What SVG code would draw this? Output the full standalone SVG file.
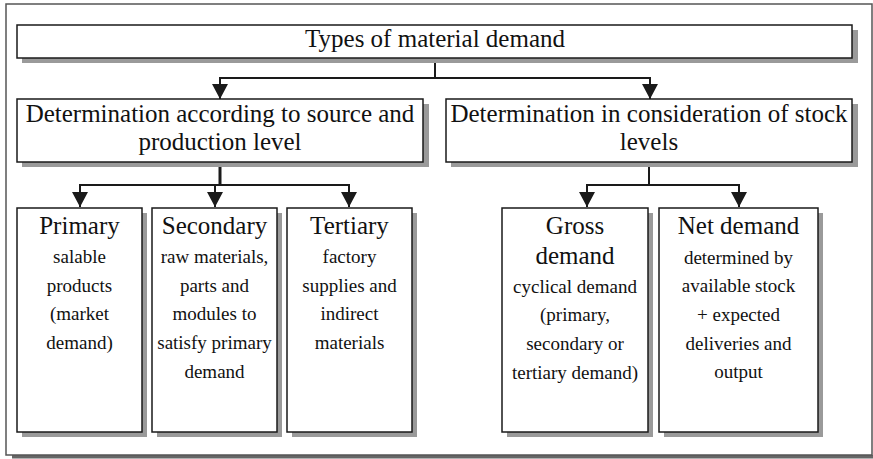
<svg xmlns="http://www.w3.org/2000/svg" width="873" height="459" viewBox="0 0 873 459">
<style>
.bg{fill:#fff}
.box{fill:#fff;stroke:#1a1a1a;stroke-width:1.5}
.sh{fill:#9a9a9a}
.t{font-family:"Liberation Serif","Times New Roman",serif;fill:#111;text-anchor:middle}
.big{font-size:25px}
.sub{font-size:19px}
.con{fill:none;stroke:#1a1a1a;stroke-width:2}
</style>
<defs>
<marker id="ah" markerUnits="userSpaceOnUse" markerWidth="15" markerHeight="16" viewBox="0 0 15 16" refX="15" refY="8" orient="auto-start-reverse">
<path d="M0,0 L15,8 L0,16 Z" fill="#1a1a1a"/>
</marker>
</defs>
<rect class="bg" x="0" y="0" width="873" height="459"/>
<g id="frame">
<rect x="12" y="455" width="861" height="3.5" fill="#666"/>
<rect x="6" y="4" width="866" height="451" fill="none" stroke="#555" stroke-width="1.5"/>
</g>
<g id="connectors">
<polyline class="con" points="435,58 435,78"/>
<polyline class="con" points="220,99 220,78 650,78 650,99" marker-start="url(#ah)" marker-end="url(#ah)"/>
<polyline class="con" style="stroke-width:3" points="220,163 220,185"/>
<polyline class="con" points="80,207 80,185 349,185 349,207" marker-start="url(#ah)" marker-end="url(#ah)"/>
<polyline class="con" points="215,185 215,207" marker-end="url(#ah)"/>
<polyline class="con" points="649,163 649,185"/>
<polyline class="con" points="587,207 587,185 739,185 739,207" marker-start="url(#ah)" marker-end="url(#ah)"/>
</g>
<g id="types">
<rect class="sh" x="22" y="30" width="836" height="33"/>
<rect class="box" x="17" y="25" width="835" height="33"/>
<text class="t big" x="435" y="47">Types of material demand</text>
</g>
<g id="source">
<rect class="sh" x="22" y="104" width="407" height="63"/>
<rect class="box" x="17" y="99" width="406" height="63"/>
<text class="t big" x="220" y="122">Determination according to source and</text>
<text class="t big" x="220" y="150">production level</text>
</g>
<g id="stock">
<rect class="sh" x="451" y="104" width="407" height="63"/>
<rect class="box" x="446" y="99" width="406" height="63"/>
<text class="t big" x="649" y="122">Determination in consideration of stock</text>
<text class="t big" x="649" y="150">levels</text>
</g>
<g id="primary">
<rect class="sh" x="22" y="213" width="125" height="224"/>
<rect class="box" x="17" y="208" width="125" height="224"/>
<text class="t big" x="79.5" y="234">Primary</text>
<text class="t sub" x="79.5" y="263">salable</text>
<text class="t sub" x="79.5" y="292">products</text>
<text class="t sub" x="79.5" y="320">(market</text>
<text class="t sub" x="79.5" y="349">demand)</text>
</g>
<g id="secondary">
<rect class="sh" x="157" y="213" width="125" height="224"/>
<rect class="box" x="152" y="208" width="125" height="224"/>
<text class="t big" x="214.5" y="234">Secondary</text>
<text class="t sub" x="214.5" y="263">raw materials,</text>
<text class="t sub" x="214.5" y="292">parts and</text>
<text class="t sub" x="214.5" y="320">modules to</text>
<text class="t sub" x="214.5" y="349">satisfy primary</text>
<text class="t sub" x="214.5" y="378">demand</text>
</g>
<g id="tertiary">
<rect class="sh" x="292" y="213" width="125" height="224"/>
<rect class="box" x="287" y="208" width="125" height="224"/>
<text class="t big" x="349.5" y="234">Tertiary</text>
<text class="t sub" x="349.5" y="263">factory</text>
<text class="t sub" x="349.5" y="292">supplies and</text>
<text class="t sub" x="349.5" y="320">indirect</text>
<text class="t sub" x="349.5" y="349">materials</text>
</g>
<g id="gross">
<rect class="sh" x="507" y="213" width="146" height="224"/>
<rect class="box" x="502" y="208" width="146" height="224"/>
<text class="t big" x="575" y="234">Gross</text>
<text class="t big" x="575" y="264">demand</text>
<text class="t sub" x="575" y="293">cyclical demand</text>
<text class="t sub" x="575" y="321">(primary,</text>
<text class="t sub" x="575" y="350">secondary or</text>
<text class="t sub" x="575" y="379">tertiary demand)</text>
</g>
<g id="net">
<rect class="sh" x="664" y="213" width="159" height="224"/>
<rect class="box" x="659" y="208" width="159" height="224"/>
<text class="t big" x="738.5" y="234">Net demand</text>
<text class="t sub" x="738.5" y="264">determined by</text>
<text class="t sub" x="738.5" y="292">available stock</text>
<text class="t sub" x="738.5" y="321">+ expected</text>
<text class="t sub" x="738.5" y="350">deliveries and</text>
<text class="t sub" x="738.5" y="378">output</text>
</g>
</svg>
